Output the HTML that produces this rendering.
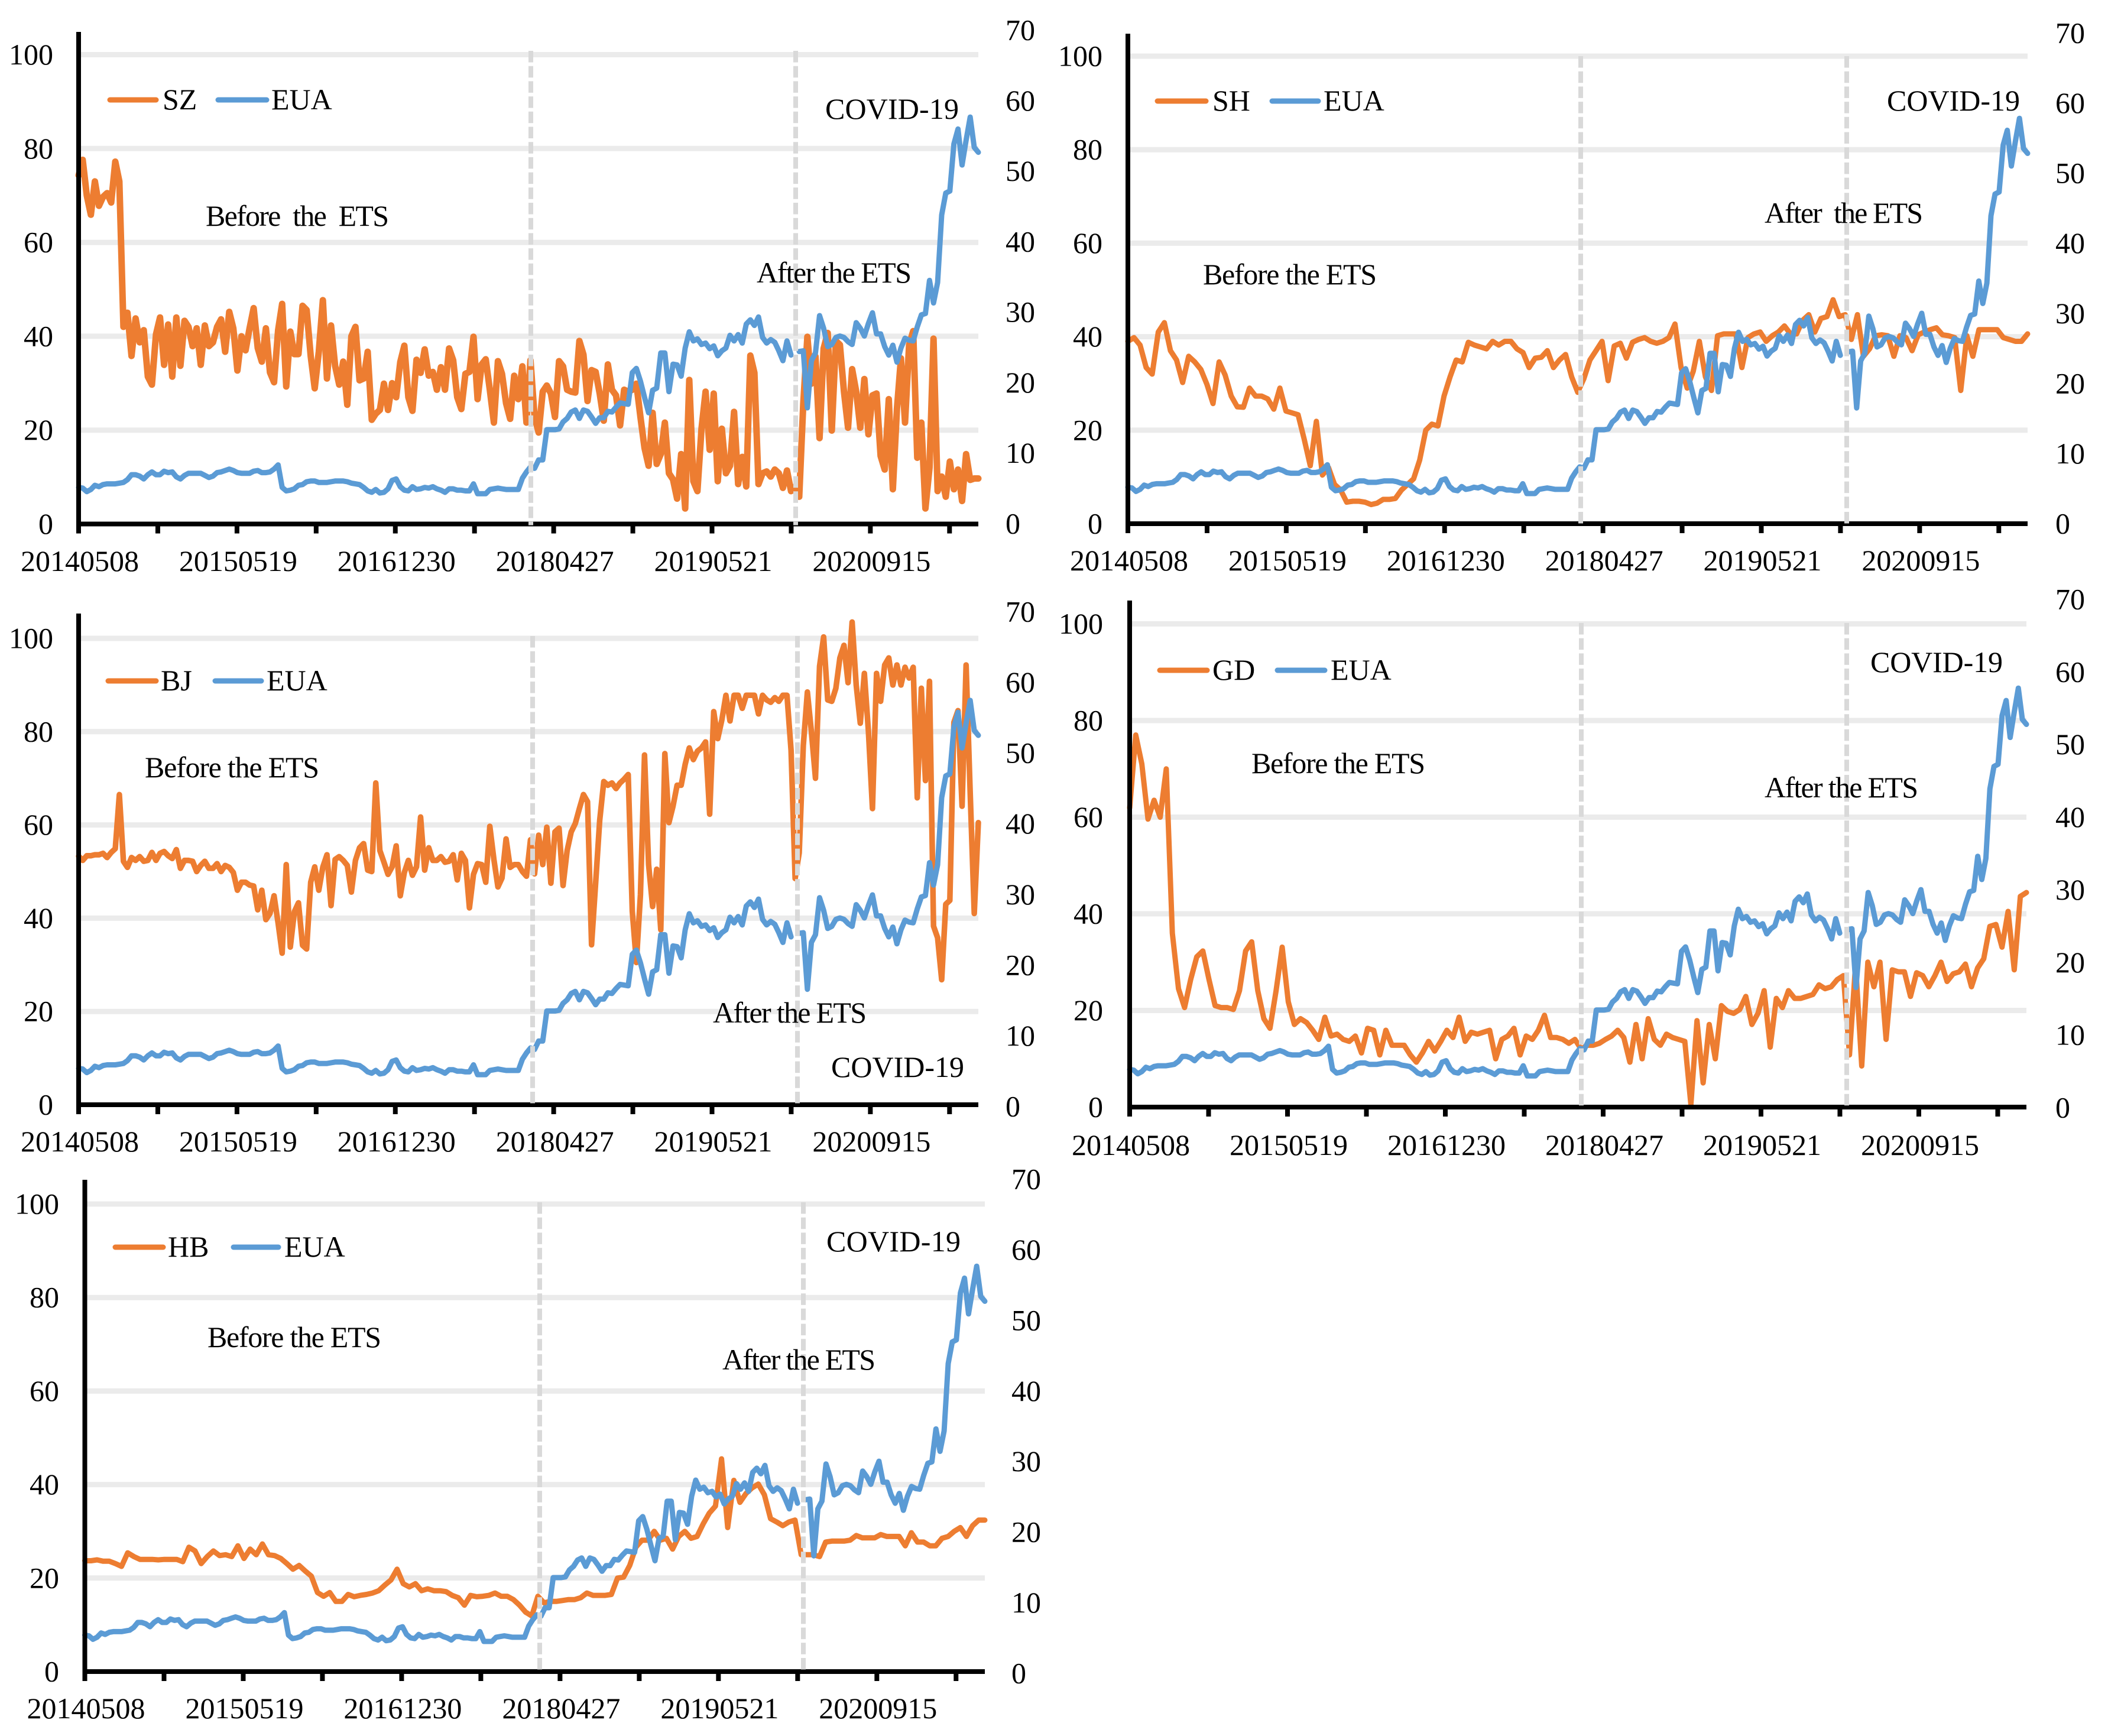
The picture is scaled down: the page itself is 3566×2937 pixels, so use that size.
<!DOCTYPE html>
<html lang="en">
<head>
<meta charset="utf-8">
<title>Carbon prices in Chinese pilot ETS markets versus EUA</title>
<style>
html,body{margin:0;padding:0;background:#fff;}
svg{display:block;}
text{font-family:"Liberation Serif","Times New Roman",serif;font-size:50px;fill:#000;}
</style>
</head>
<body>
<svg id="chart" xmlns="http://www.w3.org/2000/svg" width="3566" height="2937" viewBox="0 0 3566 2937">
  <g id="panel-sz">
    <g id="plot-sz"></g>
    <line x1="186" y1="169" x2="264" y2="169" stroke="#ed7d31" stroke-width="9" stroke-linecap="round"/>
    <text x="275" y="185">SZ</text>
    <line x1="369" y1="169" x2="451" y2="169" stroke="#5b9bd5" stroke-width="9" stroke-linecap="round"/>
    <text x="459" y="185">EUA</text>
    <text x="1396" y="201" textLength="226">COVID-19</text>
    <text x="348" y="382" textLength="310" xml:space="preserve">Before  the  ETS</text>
    <text x="1280" y="478" textLength="262">After the ETS</text>
  </g>
  <g id="panel-sh">
    <g id="plot-sh"></g>
    <line x1="1958" y1="171" x2="2040" y2="171" stroke="#ed7d31" stroke-width="9" stroke-linecap="round"/>
    <text x="2051" y="187">SH</text>
    <line x1="2152" y1="171" x2="2230" y2="171" stroke="#5b9bd5" stroke-width="9" stroke-linecap="round"/>
    <text x="2239" y="187">EUA</text>
    <text x="3192" y="187" textLength="225">COVID-19</text>
    <text x="2035" y="481" textLength="294">Before the ETS</text>
    <text x="2985" y="377" textLength="268" xml:space="preserve">After  the ETS</text>
  </g>
  <g id="panel-bj">
    <g id="plot-bj"></g>
    <line x1="183" y1="1152" x2="264" y2="1152" stroke="#ed7d31" stroke-width="9" stroke-linecap="round"/>
    <text x="272" y="1168">BJ</text>
    <line x1="364" y1="1152" x2="442" y2="1152" stroke="#5b9bd5" stroke-width="9" stroke-linecap="round"/>
    <text x="451" y="1168">EUA</text>
    <text x="1406" y="1822" textLength="225">COVID-19</text>
    <text x="245" y="1315" textLength="295">Before the ETS</text>
    <text x="1206" y="1730" textLength="260">After the ETS</text>
  </g>
  <g id="panel-gd">
    <g id="plot-gd"></g>
    <line x1="1962" y1="1134" x2="2042" y2="1134" stroke="#ed7d31" stroke-width="9" stroke-linecap="round"/>
    <text x="2051" y="1150">GD</text>
    <line x1="2161" y1="1134" x2="2241" y2="1134" stroke="#5b9bd5" stroke-width="9" stroke-linecap="round"/>
    <text x="2251" y="1150">EUA</text>
    <text x="3164" y="1137" textLength="224">COVID-19</text>
    <text x="2117" y="1308" textLength="294">Before the ETS</text>
    <text x="2985" y="1349" textLength="260">After the ETS</text>
  </g>
  <g id="panel-hb">
    <g id="plot-hb"></g>
    <line x1="195" y1="2110" x2="276" y2="2110" stroke="#ed7d31" stroke-width="9" stroke-linecap="round"/>
    <text x="284" y="2126">HB</text>
    <line x1="395" y1="2110" x2="471" y2="2110" stroke="#5b9bd5" stroke-width="9" stroke-linecap="round"/>
    <text x="481" y="2126">EUA</text>
    <text x="1398" y="2117" textLength="227">COVID-19</text>
    <text x="351" y="2279" textLength="294">Before the ETS</text>
    <text x="1222" y="2317" textLength="259">After the ETS</text>
  </g>
</svg>
<script>
var xTickLabels = ['20140508','20150519','20161230','20180427','20190521','20200915'];
var leftTickValues = [0,20,40,60,80,100];
var rightTickValues = [0,10,20,30,40,50,60,70];

var euaValues = [
5.2,5.1,4.6,4.9,5.5,5.3,5.6,5.7,5.7,5.7,5.8,5.9,6.3,7.0,7.0,6.8,6.4,7.0,7.4,7.0,
7.0,7.5,7.3,7.4,6.7,6.4,6.9,7.2,7.2,7.2,7.2,6.9,6.6,6.8,7.3,7.4,7.6,7.8,7.6,7.3,
7.2,7.2,7.2,7.5,7.6,7.3,7.3,7.4,7.8,8.4,5.2,4.7,4.8,5.0,5.5,5.6,6.0,6.1,6.1,5.9,
5.9,5.9,6.0,6.1,6.1,6.1,6.0,5.8,5.7,5.6,5.2,4.7,4.5,4.9,4.4,4.5,5.0,6.2,6.4,5.3,
4.8,4.7,5.3,4.9,5.0,5.2,5.1,5.3,5.0,4.8,4.5,5.0,5.0,4.8,4.8,4.7,4.7,5.7,4.3,4.3,
4.3,4.9,5.0,5.1,5.0,4.9,4.9,4.9,4.9,6.5,7.4,8.1,7.9,9.1,9.1,13.4,13.4,13.4,13.5,14.5,
15.0,15.9,16.2,15.0,16.2,16.0,15.2,14.3,15.1,15.1,16.0,15.9,16.6,17.2,17.1,17.0,21.5,22.1,20.3,18.0,
15.8,19.0,19.3,24.3,24.3,18.8,22.7,22.6,21.0,25.0,27.3,26.0,26.3,25.5,25.7,24.9,25.3,23.9,24.6,25.0,
26.8,26.0,26.9,25.7,28.4,29.0,28.2,29.4,26.5,25.7,26.2,25.8,24.6,23.2,26.0,24.0,null,24.5,24.6,16.5,
23.2,24.3,29.6,27.8,25.2,25.5,26.5,26.7,26.5,25.9,25.5,28.6,27.8,26.7,28.5,30.0,27.0,27.0,25.2,24.0,
25.4,23.0,25.0,26.4,26.1,26.0,28.0,29.7,29.9,34.6,31.4,34.3,43.9,47.0,47.3,54.0,56.1,51.0,54.5,57.8,
53.5,52.8
];

var szValues = [
74.3,77.6,70,65.9,73,67.8,69.7,70.5,68.5,77.2,73,42,45,35.8,43.8,38.7,41.3,31.4,29.7,40.4,
44,33.9,42.5,31.4,44,33.7,43.3,42,37.9,41.7,33.9,42.3,37.9,38.7,42,43.6,36.7,45.2,41.7,32.7,
40,37,41.7,46,37.5,34.6,41.7,32.3,30.2,41.3,46.9,29.3,41,36.2,36.2,46.5,45.6,35.8,28.9,36.7,
47.7,31,42.3,33.7,29.7,34.6,25.4,40,42,30.6,31,36.7,22.2,23.5,24.3,29.9,24.3,30,27,34.5,
38,27,24.1,35,32.2,37.2,31.6,32.4,28.6,33.4,28.6,37.4,34.9,27,24.5,32,32.4,39.9,26.6,34,
35.1,28.6,21.6,34.7,32,25.7,22.4,31.6,26.6,33.6,21.6,34.9,22.8,19.5,28.2,29.5,27.8,22.8,34.7,33.6,
28.6,28.2,28,39,36.1,26.2,32.8,32.4,27.8,22,34,28.6,27.4,21,28.6,28.2,28.6,29.9,22.8,16.2,
12.4,23.7,12.8,14.9,21.6,10.8,9.5,5.4,14.9,3.3,30.7,9.1,7,20.3,28.2,15.8,27.8,9.1,20.3,10.8,
12.4,23.9,8.5,14.3,8,35.9,32.2,8.5,10.8,11.2,10.1,11.6,10.8,7.7,11.4,7,8,5.8,25.7,39.9,
29.9,35.7,18.3,37.4,40.7,19.9,39,38.2,28.2,20.5,33,28.2,20.5,30.9,19.1,27.4,27.8,14.5,11.6,26.6,
7.4,24.5,35.3,21.6,38.2,41.1,14.1,21.6,3.3,12,39.5,7,10.1,5.8,13.3,7.4,11.6,4.9,14.9,9.4,
9.7,9.7
];

var shValues = [
39,39.8,38.2,33.4,32,41,43,37,35,30.2,35.8,34.6,33,29.8,25.7,34.6,31.8,27.3,25,24.9,
29,27.3,27.3,26.7,24.5,29,24.1,23.7,23.3,18.1,12.4,21.9,10.4,12,8.4,7.2,4.6,4.8,4.8,4.6,
4.1,4.4,5.2,5.2,5.4,7.2,8.4,9.6,13.6,20,21.3,20.9,27.3,31.4,35,34.6,38.8,38.2,37.8,37.4,
39,38.2,39,39,37.4,36.6,33.4,35.4,35.6,37,33.4,35,36.2,31.4,28.1,31,35,37,39,30.6,
38,38.6,35.4,38.8,39.4,39.8,39,38.6,39,39.8,42.7,33.4,29,32.6,39,31.4,28.5,40.2,40.6,40.6,
40.6,33.4,39.8,40.6,41,39,40.2,41,42.3,40.6,40.6,43.5,44.7,41,43.9,44.3,47.9,44.3,44.7,39.4,
44.7,35.8,37.4,40.2,40.4,40.2,35.8,40.2,39.8,37,40.4,41,41.5,41.9,40.4,40.2,39.8,28.5,40.2,35.8,
41.5,41.5,41.5,41.5,39.8,39.4,39,39,40.6
];

var bjValues = [
53.3,52.4,53.4,53.4,53.6,53.6,53.9,53,54.1,54.9,66.5,52.2,50.9,53,52.4,53.2,52.2,52.4,54.1,52.4,
53.9,54.3,53.4,52.8,54.7,50.7,52.4,52.4,52.2,50,51.3,52.2,50.7,50.7,51.7,50,51.3,50.9,49.8,46,
47.7,47.7,47.1,46.9,41.8,46,39.7,41,44.8,38.9,32.5,51.5,33.8,41.4,43.3,34.2,33.4,47.7,51,46,
51,53.6,42.7,52.6,53.2,52.4,51.3,45.6,52.4,55.1,56,50.3,50,69,54.5,52,49.4,51,55.5,44.8,
49.8,52.4,49.2,51,61.7,50.3,55.1,52.4,52.4,53.2,52,52.2,53.6,48.2,53.9,52.4,42.2,49.4,51.7,51.5,
47.7,59.7,52.6,46.7,48.6,57,50.9,51.5,51.5,50,49,56.8,49.5,57.8,51.5,59.5,47.5,58.5,59.3,47,
54.5,58.5,60.3,63.5,66.5,65,34.3,47.5,61,69.3,68.5,69,67.8,69,69.8,70.8,41.5,30.5,45,75,
51.5,42.5,50.5,37.5,75.3,60.5,64,68.5,68.5,73,76.5,74,75.8,76.5,77.8,62.3,84.3,78.5,82.5,87.8,
82.3,87.8,87.8,85,87.8,87.8,87.8,83.8,87.8,86.8,86.3,87.3,86.5,87.8,87.8,76,48.5,54,77,88.5,
80,70,94,100.3,86.8,86.5,89.3,95.8,98.5,90.5,103.5,90,81.8,92.5,80,63.5,92.5,86.5,94.3,95.8,
90,94.3,90,93.8,91.5,93.8,65.8,89.3,69.5,90.8,38.3,35.8,26.8,43,43.8,82,84.5,64,94.3,67,
41,60.5
];

var gdValues = [
61.9,77,71,59.6,63.5,60,70,36,24.5,20.6,26.4,31.1,32.3,26.4,21,20.6,20.6,20.2,24.1,32.3,
34.2,24.1,18.3,16.3,24.1,33.1,21.8,17.1,18.3,17.5,15.9,14,18.6,14.7,15.1,14,13.6,14.7,11.2,16.3,
15.9,10.8,15.9,12.8,12.8,12.8,10.8,9.3,11.2,13.6,11.6,13.6,15.9,14.4,18.6,13.6,15.5,15.1,15.5,15.9,
10,14,14.7,16.3,10.8,14.7,14,15.9,19,14.4,14.4,14,13.2,14,12,12.8,12.8,13.2,14,14.7,
15.9,14.4,9.3,17.1,10,18.3,14,12.8,15.1,14.4,14,13.6,0.5,17.9,5,17.1,10,21,19.8,19.4,
20.2,22.9,17.1,19.4,24.1,12.4,22.5,20.6,24.1,22.5,22.5,22.9,23.3,25.3,24.5,24.9,26.4,27.2,10.8,29.6,
8.5,30,24.9,30,14,28.4,28,28,22.9,27.8,27.2,24.9,27.2,30,26,27.6,28,29.6,24.9,28.8,
30.7,37.4,37.8,33.1,40.5,28.4,43.6,44.4
];

var hbValues = [
23.7,23.7,23.9,23.6,23.6,23.1,22.5,25.4,24.6,24,24,24,23.9,24,24,24,23.5,26.6,25.8,23.1,
24.6,25.8,24.8,25,24.6,26.9,24.2,26.2,25,27.3,25,24.8,24.2,23.1,21.9,22.7,21.5,20.4,16.9,16.1,
16.9,15,15,16.5,16,16.3,16.5,16.8,17.3,18.5,19.6,21.9,18.8,18.1,18.8,17.3,17.7,17.3,17.3,17.1,
16.3,15.8,14.2,16.3,16,16.1,16.3,16.8,16.1,16.1,15.4,14.2,12.7,11.9,16.1,14.7,15,15,15.2,15.4,
15.4,15.8,16.8,16.3,16.3,16.3,16.5,20,20.2,22.7,26.6,28.1,28.1,30,28.1,28.5,26.2,28.9,30,28.5,
28.9,31.6,33.9,35.4,45.5,30.8,40.9,36.2,38.1,39.3,40.1,37.8,32.7,32,31.2,32,32.4,25,25,25,
24.6,27.7,27.9,27.9,27.9,28.1,29.1,28.6,28.6,28.6,29.3,28.9,28.9,28.9,26.9,29.7,27.7,27.7,26.9,26.9,
28.5,28.9,30,30.8,28.9,31.2,32.4,32.4
];

var SVG_NS = 'http://www.w3.org/2000/svg';
var LEFT_MAX = 105;
var RIGHT_MAX = 70;
var TICK_FRACTION = 0.088;
var TICK_COUNT = 12;

function mk(parent, tag, attrs) {
  var el = document.createElementNS(SVG_NS, tag);
  for (var k in attrs) { el.setAttribute(k, attrs[k]); }
  parent.appendChild(el);
  return el;
}

function linePath(values, xFn, yFn) {
  var d = '';
  var pen = false;
  for (var i = 0; i < values.length; i++) {
    if (values[i] === null) { pen = false; continue; }
    d += (pen ? 'L' : 'M') + xFn(i).toFixed(1) + ' ' + yFn(values[i]).toFixed(1);
    pen = true;
  }
  return d;
}

function drawPanel(cfg) {
  var g = document.getElementById('plot-' + cfg.id);
  var width = cfg.right - cfg.left;
  var leftY = function (v) { return cfg.y0 - v * cfg.unit; };
  var rightY = function (v) { return cfg.y0 - (v / RIGHT_MAX) * LEFT_MAX * cfg.unit; };
  var rightLabelY = function (v) { return cfg.rLabel0 + (cfg.rLabel70 - cfg.rLabel0) * v / RIGHT_MAX; };
  var xOf = function (n) { return function (i) { return cfg.left + (i / (n - 1)) * width; }; };
  var i, el;

  leftTickValues.forEach(function (v) {
    if (v > 0) {
      el = mk(g, 'line', {x1: cfg.left, x2: cfg.right, y1: leftY(v), y2: leftY(v), stroke: '#ebebeb', 'stroke-width': 9});
      
      
    }
    el = mk(g, 'text', {x: cfg.leftLabelEnd, y: leftY(v) + 16.5, 'text-anchor': 'end'});
    el.textContent = String(v);
    
    
  });

  rightTickValues.forEach(function (v) {
    el = mk(g, 'text', {x: cfg.rightLabelStart, y: rightLabelY(v) + 16.5});
    el.textContent = String(v);
    
    
  });

  el = mk(g, 'path', {d: linePath(cfg.values, xOf(cfg.values.length), leftY), fill: 'none', stroke: '#ed7d31', 'stroke-width': cfg.orangeWidth, 'stroke-linejoin': 'round', 'stroke-linecap': 'round'});
  
  

  el = mk(g, 'path', {d: linePath(euaValues, xOf(euaValues.length), rightY), fill: 'none', stroke: '#5b9bd5', 'stroke-width': 9, 'stroke-linejoin': 'round', 'stroke-linecap': 'round'});
  
  

  el = mk(g, 'line', {x1: cfg.left, x2: cfg.left, y1: cfg.yTop, y2: cfg.y0 + 16, stroke: '#000', 'stroke-width': 8});
  
  

  el = mk(g, 'line', {x1: cfg.left - 4, x2: cfg.right, y1: cfg.y0, y2: cfg.y0, stroke: '#000', 'stroke-width': 8});
  
  

  for (i = 1; i < TICK_COUNT; i++) {
    var tx = cfg.left + i * TICK_FRACTION * width;
    el = mk(g, 'line', {x1: tx, x2: tx, y1: cfg.y0, y2: cfg.y0 + 16, stroke: '#000', 'stroke-width': 8});
    
    
  }

  xTickLabels.forEach(function (label, k) {
    var lx = cfg.left + 2 * k * TICK_FRACTION * width + 2;
    el = mk(g, 'text', {x: lx, y: cfg.xLabelBase, 'text-anchor': 'middle'});
    el.textContent = label;
    
    
  });

  cfg.periods.forEach(function (px) {
    el = mk(g, 'line', {x1: px, x2: px, y1: cfg.periodTop, y2: cfg.y0 + 2, stroke: '#d9d9d9', 'stroke-width': 8, 'stroke-dasharray': '19.5 6.2'});
    
    
  });
}

drawPanel({id: 'sz', values: szValues, orangeWidth: 11, left: 133, right: 1655, y0: 886.5, unit: 7.94, yTop: 54, leftLabelEnd: 90, rightLabelStart: 1701, rLabel0: 886, rLabel70: 51, xLabelBase: 966, periods: [898, 1346], periodTop: 86});
drawPanel({id: 'sh', values: shValues, orangeWidth: 9, left: 1908, right: 3430, y0: 886, unit: 7.91, yTop: 57, leftLabelEnd: 1865, rightLabelStart: 3477, rLabel0: 886, rLabel70: 56, xLabelBase: 965, periods: [2674, 3124], periodTop: 95});
drawPanel({id: 'bj', values: bjValues, orangeWidth: 9.5, left: 133, right: 1655, y0: 1869, unit: 7.89, yTop: 1038, leftLabelEnd: 90, rightLabelStart: 1701, rLabel0: 1872, rLabel70: 1035, xLabelBase: 1948, periods: [901, 1349], periodTop: 1076});
drawPanel({id: 'gd', values: gdValues, orangeWidth: 9, left: 1911, right: 3428, y0: 1873, unit: 8.175, yTop: 1016, leftLabelEnd: 1866, rightLabelStart: 3477, rLabel0: 1874, rLabel70: 1014, xLabelBase: 1954, periods: [2675, 3124], periodTop: 1054});
drawPanel({id: 'hb', values: hbValues, orangeWidth: 9, left: 143.5, right: 1666, y0: 2828, unit: 7.91, yTop: 1996, leftLabelEnd: 100, rightLabelStart: 1711, rLabel0: 2831, rLabel70: 1995, xLabelBase: 2907, periods: [913, 1359], periodTop: 2034});
</script>
</body>
</html>
